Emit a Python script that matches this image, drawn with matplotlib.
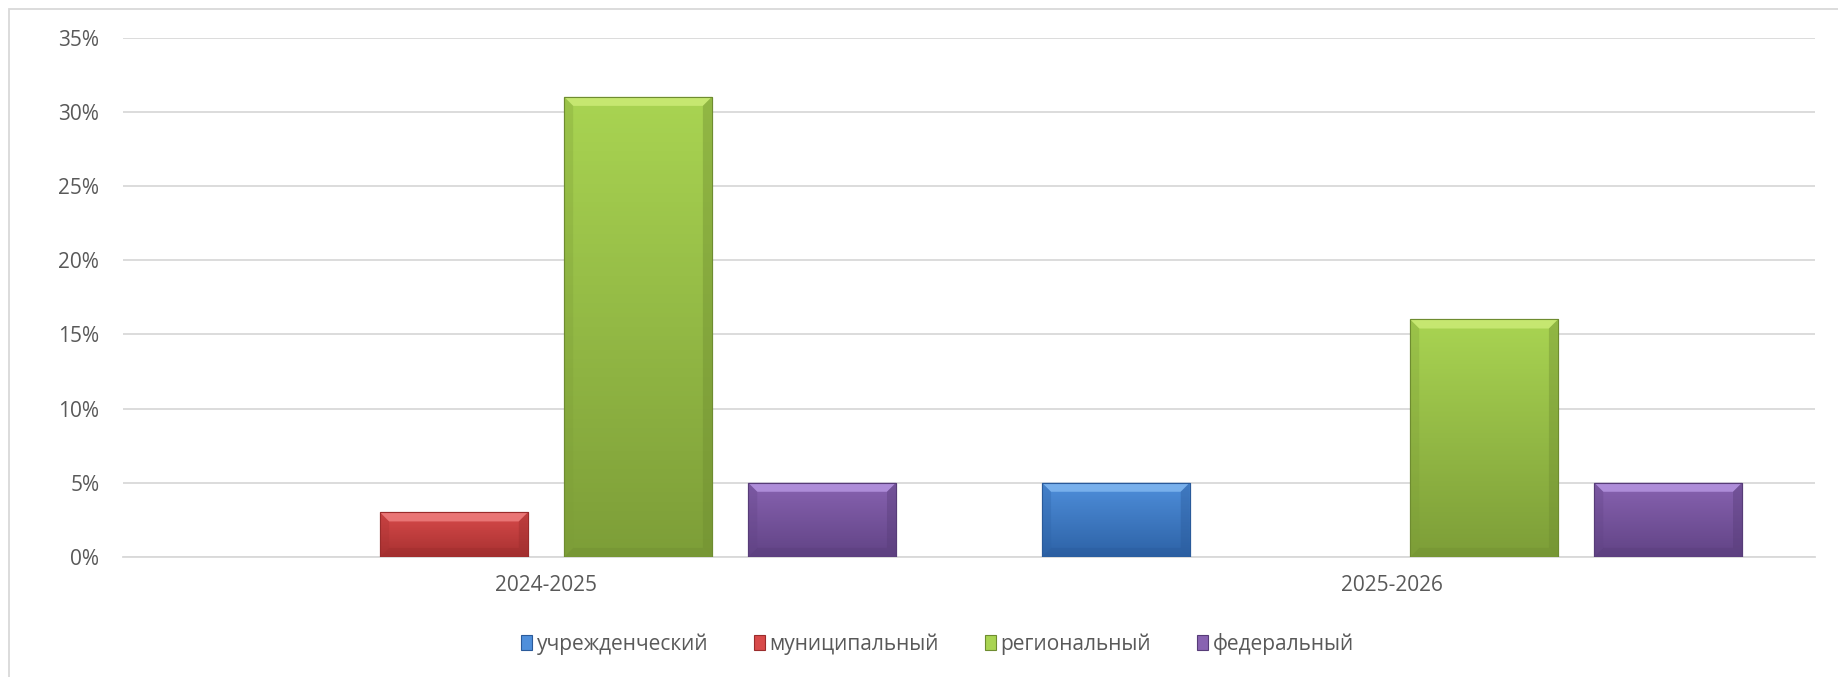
import matplotlib.pyplot as plt
import numpy as np
from matplotlib.colors import LinearSegmentedColormap
from matplotlib.patches import Polygon, Rectangle

# ---------------- data ----------------
categories = ['2024-2025', '2025-2026']
series = ['учрежденческий', 'муниципальный', 'региональный', 'федеральный']
uchr = [0, 5]
munic = [3, 0]
region = [31, 16]
feder = [5, 5]
values = [uchr, munic, region, feder]

# gradient top -> bottom for each series
grad = {
    'учрежденческий': ('#4F8FDB', '#2D62A6'),
    'муниципальный': ('#D84A4A', '#A73131'),
    'региональный': ('#A9D452', '#7D9E38'),
    'федеральный': ('#8863B1', '#614385'),
}
edge = {
    'учрежденческий': '#2A5A9A',
    'муниципальный': '#9A2C2C',
    'региональный': '#6E8C30',
    'федеральный': '#573C78',
}
light = {
    'учрежденческий': '#8CC0F5',
    'муниципальный': '#F48A8A',
    'региональный': '#D3F07E',
    'федеральный': '#C0A0EC',
}

plt.rcParams['font.family'] = ['Open Sans', 'DejaVu Sans']
text_col = '#595959'
grid_col = '#D9D9D9'

fig = plt.figure(figsize=(18.38, 6.77), dpi=100)
ax = fig.add_axes([0.0669, 0.1773, 0.9206, 0.7673])

x = np.arange(len(categories))
width = 0.1746
step = 0.2176
offsets = (np.arange(len(series)) - 1.5) * step

ax.set_xlim(-0.5, len(categories) - 0.5)
ax.set_ylim(0, 35)

# px -> data conversion for bevels
px_x = 1.0 / 846
px_y = 35.0 / 520
bev_x = 9 * px_x
bev_y = 9 * px_y

for name, vals, off in zip(series, values, offsets):
    top, bot = grad[name]
    cmap = LinearSegmentedColormap.from_list(name, [bot, top])
    bars = ax.bar(x + off, vals, width, color=top, edgecolor=edge[name],
                  linewidth=0.8, zorder=3)
    for b, v in zip(bars, vals):
        if v <= 0:
            b.set_visible(False)
            continue
        x0, x1 = b.get_x(), b.get_x() + b.get_width()
        img = np.linspace(0, 1, 100).reshape(-1, 1)
        im = ax.imshow(img, cmap=cmap, aspect='auto', origin='lower',
                       extent=(x0, x1, 0, v), zorder=3.5)
        im.set_clip_path(b)
        by = min(bev_y, v / 3)
        # top bevel (light)
        ax.add_patch(Polygon([(x0, v), (x1, v), (x1 - bev_x, v - by), (x0 + bev_x, v - by)],
                             closed=True, facecolor=light[name], edgecolor='none',
                             alpha=0.7, zorder=4))
        # side bevels (darker)
        ax.add_patch(Polygon([(x0, 0), (x0, v), (x0 + bev_x, v - by), (x0 + bev_x, by)],
                             closed=True, facecolor=bot, edgecolor='none',
                             alpha=0.3, zorder=4))
        ax.add_patch(Polygon([(x1, 0), (x1, v), (x1 - bev_x, v - by), (x1 - bev_x, by)],
                             closed=True, facecolor=edge[name], edgecolor='none',
                             alpha=0.4, zorder=4))
        # bottom bevel
        ax.add_patch(Polygon([(x0, 0), (x1, 0), (x1 - bev_x, by), (x0 + bev_x, by)],
                             closed=True, facecolor=edge[name], edgecolor='none',
                             alpha=0.35, zorder=4))
        ax.add_patch(Rectangle((x0, 0), x1 - x0, v, facecolor='none',
                               edgecolor=edge[name], linewidth=0.8, zorder=4.5))

ax.set_yticks(np.arange(0, 36, 5))
ax.set_yticklabels([f'{t}%' for t in range(0, 36, 5)], fontsize=15, color=text_col)
ax.set_xticks(x)
ax.set_xticklabels(categories, fontsize=15, color=text_col)
ax.tick_params(axis='both', length=0)
ax.tick_params(axis='y', pad=17)
ax.tick_params(axis='x', pad=13)
ax.yaxis.grid(True, color=grid_col, linewidth=1.3)
ax.set_axisbelow(True)
for s in ['top', 'right', 'left']:
    ax.spines[s].set_visible(False)
ax.spines['bottom'].set_color(grid_col)
ax.spines['bottom'].set_linewidth(1.3)

# legend
handles = [Rectangle((0, 0), 1, 1, facecolor=grad[n][0], edgecolor=edge[n], linewidth=0.8)
           for n in series]
fig.legend(handles, series, loc='center', bbox_to_anchor=(0.51, 0.049), ncol=4,
           frameon=False, fontsize=15, labelcolor=text_col, handlelength=0.55,
           handleheight=0.75, handletextpad=0.2, columnspacing=2.2)

# chart area border
fig.patches.append(Rectangle((9 / 1838, -0.01), 1.02, 1 - 9 / 677 + 0.01,
                             transform=fig.transFigure, facecolor='none',
                             edgecolor='#D9D9D9', linewidth=1.3))

fig.savefig('out.png', dpi=100)
